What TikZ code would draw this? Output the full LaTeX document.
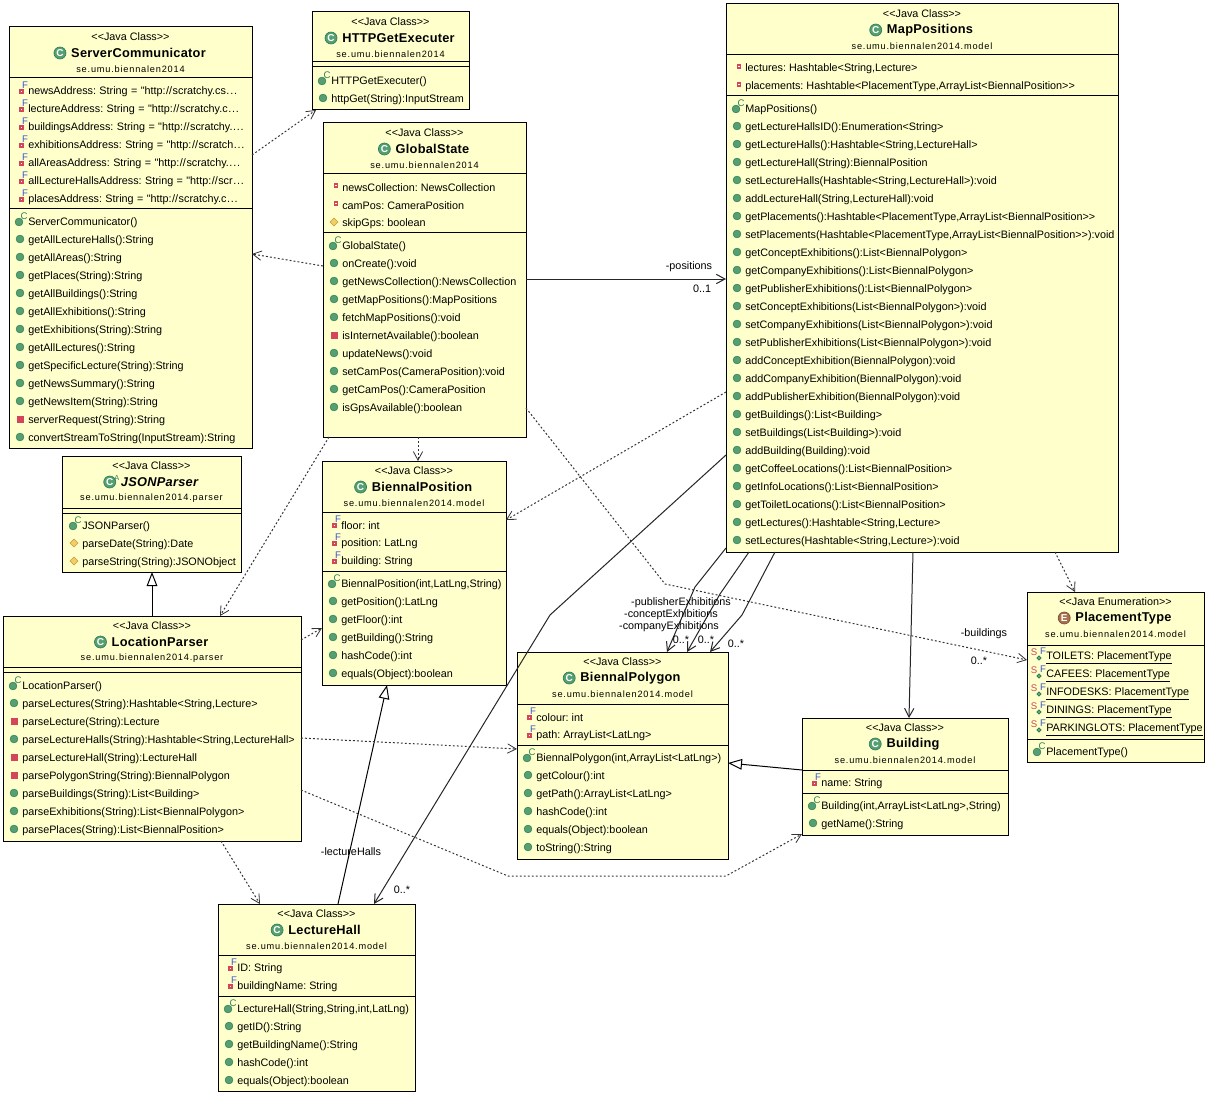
\documentclass[tikz,border=0pt]{standalone}
\usepackage{fontspec}
\usetikzlibrary{arrows.meta,calc}
\newfontfamily\ar{Liberation Sans}
\newfontfamily\arp{Liberation Sans}[LetterSpace=8.7]
\newfontfamily\art{Liberation Sans}[LetterSpace=2]
\definecolor{boxfill}{HTML}{FFFFCC}
\definecolor{pubgreen}{HTML}{559F72}
\definecolor{pubdark}{HTML}{2F7F55}
\definecolor{privred}{HTML}{D2455A}
\definecolor{finalblue}{HTML}{3B55C8}
\definecolor{protfill}{HTML}{F2CE6A}
\definecolor{protdraw}{HTML}{C89B30}
\definecolor{enumbrown}{HTML}{A8704A}
\newcounter{rw}
\newcount\rx \newcount\ry
\tikzset{
  umlbox/.style={draw=black,fill=boxfill,line width=.75pt,inner sep=0pt,outer sep=0pt},
  rowtxt/.style={anchor=west,inner sep=0pt,yshift=-1.5pt,font=\ar\fontsize{8.1}{10}\selectfont},
  stereotxt/.style={inner sep=0pt,yshift=-.75pt,font=\ar\fontsize{8.1}{10}\selectfont},
  titletxt/.style={inner sep=0pt,yshift=-.75pt,font=\art\bfseries\fontsize{9.6}{12}\selectfont},
  pkgtxt/.style={inner sep=0pt,yshift=-.75pt,font=\arp\fontsize{6.9}{9}\selectfont},
  lab/.style={inner sep=0pt,yshift=-.75pt,font=\ar\fontsize{8.1}{10}\selectfont},
  tinytxt/.style={inner sep=0pt,font=\ar\fontsize{7.2}{8}\selectfont},
  assoc/.style={draw=black!85,line width=.75pt,-{Straight Barb[length=6.5pt,width=7pt]}},
  dep/.style={draw=black!80,line width=.75pt,dash pattern=on 1.4pt off 1.6pt,-{Straight Barb[length=6.5pt,width=7pt,line width=.6pt]}},
  gen/.style={draw=black,line width=.75pt,-{Triangle[open,length=10.5pt,width=8pt,fill=white]}},
}
% wider spacing of the long address rows
\newcommand\spc{ \kern.3pt}
\newcommand\hh{"http:\kern.4pt//\kern.4pt}
\newcommand\dd{\kern.4pt.\kern.6pt.\kern.6pt.}
% row icons: #1 text x, #2 row y
\newcommand\Ipub[2]{\filldraw[fill=pubgreen,draw=pubdark,line width=.4pt] (#1-8,#2) circle[radius=3.9];}
\newcommand\Icon[2]{\filldraw[fill=pubgreen,draw=pubdark,line width=.4pt] (#1-9,#2+1) circle[radius=3.9];
  \stepcounter{rw}\node[tinytxt,text=pubdark] (i\arabic{rw}) at (#1-4,#2-5) {C};}
\newcommand\Ipri[2]{\fill[privred] (#1-11,#2-3.5) rectangle (#1-4,#2+3.5);}
\newcommand\Ifld[2]{\filldraw[fill=white,draw=privred,line width=1pt] (#1-7.5,#2-2) rectangle (#1-4.5,#2+1);}
\newcommand\Ifin[2]{\filldraw[fill=white,draw=privred,line width=1pt] (#1-8,#2) rectangle (#1-5,#2+3);
  \stepcounter{rw}\node[tinytxt,text=finalblue] (i\arabic{rw}) at (#1-3,#2-5) {F};}
\newcommand\Ipro[2]{\filldraw[fill=protfill,draw=protdraw,line width=.5pt] (#1-8,#2-4) -- (#1-4,#2) -- (#1-8,#2+4) -- (#1-12,#2) -- cycle;}
\newcommand\Isf[2]{\filldraw[fill=white,draw=pubdark,line width=.9pt] (#1-7,#2+2) circle[radius=1.8];
  \stepcounter{rw}\node[tinytxt,text=privred] (i\arabic{rw}) at (#1-12,#2-4) {S};
  \stepcounter{rw}\node[tinytxt,text=finalblue] (i\arabic{rw}) at (#1-3,#2-5) {F};}
% start a list of rows
\newcommand\rows[2]{\global\rx=#1\relax\global\ry=#2\relax}
\newcommand\R[2]{\csname I#1\endcsname{\the\rx}{\the\ry}
  \stepcounter{rw}\node[rowtxt] (r\arabic{rw}) at (\the\rx,\the\ry) {#2};
  \global\advance\ry by 18\relax}
% #1 id, #2 x1, #3 y1, #4 x2, #5 y2, #6 stereotype, #7 title text, #8 package, #9 icon kind
\newcommand\cbox[9]{%
  \pgfmathsetlengthmacro\bw{(#4-#2)*.75pt}\pgfmathsetlengthmacro\bh{(#5-#3)*.75pt}%
  \node[umlbox,minimum width=\bw,minimum height=\bh] (#1) at ({(#2+#4)/2},{(#3+#5)/2}) {};
  \node[stereotxt] (#1-s) at ({(#2+#4)/2},#3+9) {<<Java #6>>};
  \node[titletxt] (#1-t) at ({(#2+#4)/2+8},#3+25) {#7};
  \node[pkgtxt] (#1-p) at ({(#2+#4)/2},#3+41) {#8};
  \csname T#9\endcsname{#1}
}
\newcommand\Tc[1]{\filldraw[fill=pubgreen,draw=pubdark,line width=.5pt] ($(#1-t.west)+(-11,0)$) circle[radius=6];
  \node[inner sep=0pt,text=white,font=\ar\bfseries\fontsize{7.5}{8}\selectfont] (#1-i) at ($(#1-t.west)+(-11,0)$) {C};}
\newcommand\Ta[1]{\Tc{#1}\node[inner sep=0pt,text=pubdark,font=\ar\fontsize{5.5}{6}\selectfont] (#1-a) at ($(#1-t.west)+(-4,-4)$) {A};}
\newcommand\Te[1]{\filldraw[fill=enumbrown,draw=enumbrown!70!black,line width=.5pt] ($(#1-t.west)+(-11,0)$) circle[radius=6];
  \node[inner sep=0pt,text=white,font=\ar\bfseries\fontsize{7.5}{8}\selectfont] (#1-i) at ($(#1-t.west)+(-11,0)$) {E};}
\newcommand\seps[5]{\draw[black,line width=.75pt] (#2,#4) -- (#3,#4); \draw[black,line width=.75pt] (#2,#5) -- (#3,#5);}
\begin{document}
\frenchspacing
\begin{tikzpicture}[x=.75pt,y=-.75pt]
\useasboundingbox (0,0) rectangle (1207,1095);
\fill[white] (0,0) rectangle (1207,1095);

% ---------- classes ----------
\cbox{sc}{9}{27}{252}{448}{Class}{ServerCommunicator}{se.umu.biennalen2014}{c}
\seps{sc}{9}{252}{78}{209}
\rows{28}{90}
\R{fin}{newsAddress:\spc String\spc =\spc \hh scratchy.cs\dd}
\R{fin}{lectureAddress:\spc String\spc =\spc \hh scratchy.c\dd}
\R{fin}{buildingsAddress:\spc String\spc =\spc \hh scratchy.\dd}
\R{fin}{exhibitionsAddress:\spc String\spc =\spc \hh scratch\dd}
\R{fin}{allAreasAddress:\spc String\spc =\spc \hh scratchy.\dd}
\R{fin}{allLectureHallsAddress:\spc String\spc =\spc \hh scr\dd}
\R{fin}{placesAddress:\spc String\spc =\spc \hh scratchy.c\dd}
\rows{28}{221}
\R{con}{ServerCommunicator()}
\R{pub}{getAllLectureHalls():String}
\R{pub}{getAllAreas():String}
\R{pub}{getPlaces(String):String}
\R{pub}{getAllBuildings():String}
\R{pub}{getAllExhibitions():String}
\R{pub}{getExhibitions(String):String}
\R{pub}{getAllLectures():String}
\R{pub}{getSpecificLecture(String):String}
\R{pub}{getNewsSummary():String}
\R{pub}{getNewsItem(String):String}
\R{pri}{serverRequest(String):String}
\R{pub}{convertStreamToString(InputStream):String}

\cbox{hg}{312}{12}{469}{110}{Class}{HTTPGetExecuter}{se.umu.biennalen2014}{c}
\seps{hg}{312}{469}{62}{67}
\rows{331}{80}
\R{con}{HTTPGetExecuter()}
\R{pub}{httpGet(String):InputStream}

\cbox{gs}{323}{123}{526}{437}{Class}{GlobalState}{se.umu.biennalen2014}{c}
\seps{gs}{323}{526}{174}{233}
\rows{342}{186}
\R{fld}{newsCollection: NewsCollection}
\R{fld}{camPos: CameraPosition}
\R{pro}{skipGps: boolean}
\rows{342}{245}
\R{con}{GlobalState()}
\R{pub}{onCreate():void}
\R{pub}{getNewsCollection():NewsCollection}
\R{pub}{getMapPositions():MapPositions}
\R{pub}{fetchMapPositions():void}
\R{pri}{isInternetAvailable():boolean}
\R{pub}{updateNews():void}
\R{pub}{setCamPos(CameraPosition):void}
\R{pub}{getCamPos():CameraPosition}
\R{pub}{isGpsAvailable():boolean}

\cbox{mp}{726}{4}{1118}{552}{Class}{MapPositions}{se.umu.biennalen2014.model}{c}
\seps{mp}{726}{1118}{55}{96}
\rows{745}{67}
\R{fld}{lectures: Hashtable<String,Lecture>}
\R{fld}{placements: Hashtable<PlacementType,ArrayList<BiennalPosition>>}
\rows{745}{108}
\R{con}{MapPositions()}
\R{pub}{getLectureHallsID():Enumeration<String>}
\R{pub}{getLectureHalls():Hashtable<String,LectureHall>}
\R{pub}{getLectureHall(String):BiennalPosition}
\R{pub}{setLectureHalls(Hashtable<String,LectureHall>):void}
\R{pub}{addLectureHall(String,LectureHall):void}
\R{pub}{getPlacements():Hashtable<PlacementType,ArrayList<BiennalPosition>>}
\R{pub}{setPlacements(Hashtable<PlacementType,ArrayList<BiennalPosition>>):void}
\R{pub}{getConceptExhibitions():List<BiennalPolygon>}
\R{pub}{getCompanyExhibitions():List<BiennalPolygon>}
\R{pub}{getPublisherExhibitions():List<BiennalPolygon>}
\R{pub}{setConceptExhibitions(List<BiennalPolygon>):void}
\R{pub}{setCompanyExhibitions(List<BiennalPolygon>):void}
\R{pub}{setPublisherExhibitions(List<BiennalPolygon>):void}
\R{pub}{addConceptExhibition(BiennalPolygon):void}
\R{pub}{addCompanyExhibition(BiennalPolygon):void}
\R{pub}{addPublisherExhibition(BiennalPolygon):void}
\R{pub}{getBuildings():List<Building>}
\R{pub}{setBuildings(List<Building>):void}
\R{pub}{addBuilding(Building):void}
\R{pub}{getCoffeeLocations():List<BiennalPosition>}
\R{pub}{getInfoLocations():List<BiennalPosition>}
\R{pub}{getToiletLocations():List<BiennalPosition>}
\R{pub}{getLectures():Hashtable<String,Lecture>}
\R{pub}{setLectures(Hashtable<String,Lecture>):void}

\cbox{bp}{322}{461}{506}{685}{Class}{BiennalPosition}{se.umu.biennalen2014.model}{c}
\seps{bp}{322}{506}{512}{571}
\rows{341}{524}
\R{fin}{floor: int}
\R{fin}{position: LatLng}
\R{fin}{building: String}
\rows{341}{583}
\R{con}{BiennalPosition(int,LatLng,String)}
\R{pub}{getPosition():LatLng}
\R{pub}{getFloor():int}
\R{pub}{getBuilding():String}
\R{pub}{hashCode():int}
\R{pub}{equals(Object):boolean}

\cbox{js}{62}{456}{241}{572}{Class}{\itshape JSONParser}{se.umu.biennalen2014.parser}{a}
\seps{js}{62}{241}{508}{513}
\rows{82}{525}
\R{con}{JSONParser()}
\R{pro}{parseDate(String):Date}
\R{pro}{parseString(String):JSONObject}

\cbox{lp}{3}{616}{301}{841}{Class}{LocationParser}{se.umu.biennalen2014.parser}{c}
\seps{lp}{3}{301}{667}{672}
\rows{22}{685}
\R{con}{LocationParser()}
\R{pub}{parseLectures(String):Hashtable<String,Lecture>}
\R{pri}{parseLecture(String):Lecture}
\R{pub}{parseLectureHalls(String):Hashtable<String,LectureHall>}
\R{pri}{parseLectureHall(String):LectureHall}
\R{pri}{parsePolygonString(String):BiennalPolygon}
\R{pub}{parseBuildings(String):List<Building>}
\R{pub}{parseExhibitions(String):List<BiennalPolygon>}
\R{pub}{parsePlaces(String):List<BiennalPosition>}

\cbox{bg}{517}{652}{728}{859}{Class}{BiennalPolygon}{se.umu.biennalen2014.model}{c}
\seps{bg}{517}{728}{704}{745}
\rows{536}{716}
\R{fin}{colour: int}
\R{fin}{path: ArrayList<LatLng>}
\rows{536}{757}
\R{con}{BiennalPolygon(int,ArrayList<LatLng>)}
\R{pub}{getColour():int}
\R{pub}{getPath():ArrayList<LatLng>}
\R{pub}{hashCode():int}
\R{pub}{equals(Object):boolean}
\R{pub}{toString():String}

\cbox{bu}{802}{718}{1008}{835}{Class}{Building}{se.umu.biennalen2014.model}{c}
\seps{bu}{802}{1008}{770}{793}
\rows{821}{782}
\R{fin}{name: String}
\rows{821}{805}
\R{con}{Building(int,ArrayList<LatLng>,String)}
\R{pub}{getName():String}

\cbox{pt}{1027}{592}{1204}{762}{Enumeration}{PlacementType}{se.umu.biennalen2014.model}{e}
\seps{pt}{1027}{1204}{645}{739}
\rows{1046}{656}
\R{sf}{\underline{TOILETS: PlacementType}}
\R{sf}{\underline{CAFEES: PlacementType}}
\R{sf}{\underline{INFODESKS: PlacementType}}
\R{sf}{\underline{DININGS: PlacementType}}
\R{sf}{\underline{PARKINGLOTS: PlacementType}}
\rows{1046}{751}
\R{con}{PlacementType()}

\cbox{lh}{218}{904}{415}{1091}{Class}{LectureHall}{se.umu.biennalen2014.model}{c}
\seps{lh}{218}{415}{955}{996}
\rows{237}{967}
\R{fin}{ID: String}
\R{fin}{buildingName: String}
\rows{237}{1008}
\R{con}{LectureHall(String,String,int,LatLng)}
\R{pub}{getID():String}
\R{pub}{getBuildingName():String}
\R{pub}{hashCode():int}
\R{pub}{equals(Object):boolean}

% ---------- connectors ----------
\coordinate (bendpt) at (665,584);
\coordinate (bendlh) at (550,615);
\coordinate (bendb1) at (695,587);
\coordinate (bendb2) at (720,594);
\coordinate (bendb3) at (742,615);
\coordinate (bendu1) at (508,876);
\coordinate (bendu2) at (726,876);

\draw[dep] (sc.east |- 0,155) -- (hg.south -| 316,0);
\draw[dep] (gs.west |- 0,266) -- (sc.east |- 0,254);
\draw[assoc] (gs.east |- 0,279) -- (mp.west |- 0,279);
\draw[dep] (gs.south -| 418,0) -- (bp.north -| 418,0);
\draw[dep] (gs.south -| 329,0) -- (lp.north -| 220,0);
\draw[dep] (gs.east |- 0,408) -- (bendpt) -- (pt.west |- 0,660);
\draw[dep] (mp.west |- 0,392) -- (bp.east |- 0,520);
\draw[dep] (mp.south -| 1055,0) -- (pt.north -| 1075,0);
\draw[assoc] (mp.west |- 0,455) -- (bendlh) -- (lh.north -| 374,0);
\draw[assoc] (mp.west |- 0,548) -- (bendb1) -- (bg.north -| 667,0);
\draw[assoc] (mp.south -| 749,0) -- (bendb2) -- (bg.north -| 687,0);
\draw[assoc] (mp.south -| 775,0) -- (bendb3) -- (bg.north -| 710,0);
\draw[assoc] (mp.south -| 913,0) -- (bu.north -| 909,0);
\draw[gen] (bu.west |- 0,770) -- (bg.east |- 0,763);
\draw[gen] (lp.north -| 152,0) -- (js.south -| 152,0);
\draw[gen] (lh.north -| 338,0) -- (bp.south -| 387,0);
\draw[dep] (lp.east |- 0,640) -- (bp.west |- 0,628);
\draw[dep] (lp.east |- 0,738) -- (bg.west |- 0,749);
\draw[dep] (lp.south -| 221,0) -- (lh.north -| 260,0);
\draw[dep] (lp.east |- 0,790) -- (bendu1) -- (bendu2) -- (bu.west |- 0,834);

% ---------- labels ----------
\node[lab] (l1) at (689,266) {-positions};
\node[lab] (l2) at (702,288) {0..1};
\node[lab] (l3) at (351,851) {-lectureHalls};
\node[lab] (l4) at (402,889) {0..*};
\node[lab] (l5) at (681,602) {-publisherExhibitions};
\node[lab] (l6) at (671,614) {-conceptExhibitions};
\node[lab] (l7) at (669,626) {-companyExhibitions};
\node[lab] (l8) at (681,639) {0..*};
\node[lab] (l9) at (706,639) {0..*};
\node[lab] (l10) at (736,643) {0..*};
\node[lab] (l11) at (984,633) {-buildings};
\node[lab] (l12) at (979,660) {0..*};
\end{tikzpicture}
\end{document}
